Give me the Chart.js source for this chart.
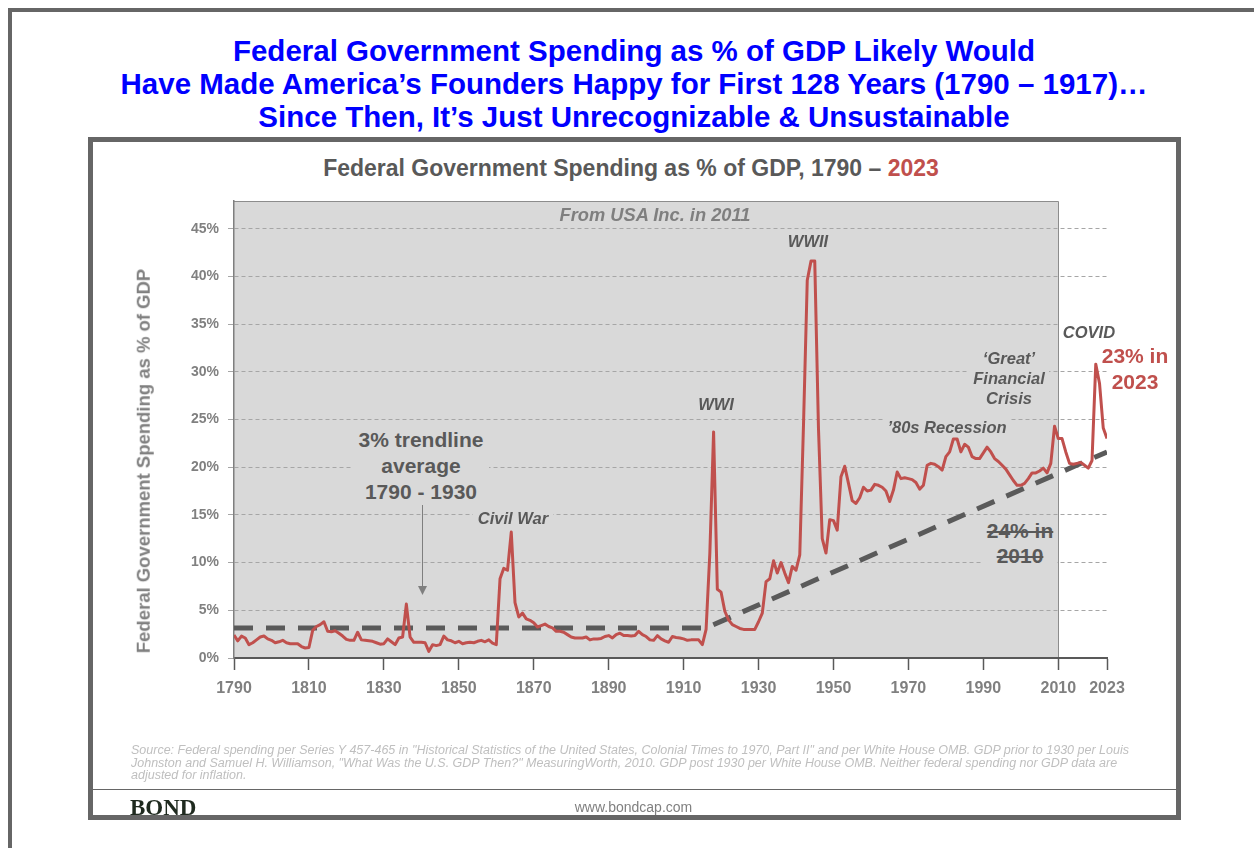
<!DOCTYPE html>
<html>
<head>
<meta charset="utf-8">
<script src="https://cdn.jsdelivr.net/npm/chart.js@4.4.1/dist/chart.umd.min.js"></script>
<style>
  html, body { margin: 0; padding: 0; background: #fff; }
  body { width: 1254px; height: 848px; position: relative; overflow: hidden;
         font-family: "Liberation Sans", Arial, sans-serif; }
  .abs { position: absolute; white-space: nowrap; }
  .note { font-weight: bold; font-style: italic; color: #595959; font-size: 16.5px;
          line-height: 1; background: #d9d9d9; text-align: center; }
  .big { font-weight: bold; font-size: 21px; color: #595959; text-align: center; background: #d9d9d9; }
</style>
</head>
<body>
<div class="abs" style="left:8px;top:8px;width:1260px;height:860px;border-left:4px solid #666;border-top:4px solid #666;"></div>

<div class="abs" style="left:14px;top:34px;width:1240px;text-align:center;font-weight:bold;font-size:29.5px;line-height:33px;color:#0000ff;">
Federal Government Spending as % of GDP Likely Would<br>
Have Made America’s Founders Happy for First 128 Years (1790 – 1917)…<br>
Since Then, It’s Just Unrecognizable &amp; Unsustainable
</div>

<div class="abs" style="left:88px;top:137px;width:1093px;height:683px;border:5px solid #666;box-sizing:border-box;"></div>

<div class="abs" style="left:131px;top:157px;width:1000px;text-align:center;font-weight:bold;font-size:23px;line-height:1;color:#595959;">
Federal Government Spending as % of GDP, 1790 – <span style="color:#c0504d">2023</span>
</div>

<canvas id="chart" class="abs" style="left:93px;top:142px;" width="1083" height="600"></canvas>

<div class="abs" style="left:144px;top:461px;font-weight:bold;font-size:18.5px;line-height:1;color:#808080;transform:translate(-50%,-50%) rotate(-90deg);">
Federal Government Spending as % of GDP
</div>

<!-- annotations -->
<div class="abs note" style="left:545px;top:206px;width:220px;font-size:18.3px;color:#7f7f7f;">From USA Inc. in 2011</div>
<div class="abs note" style="left:783px;top:233px;width:50px;">WWII</div>
<div class="abs note" style="left:694px;top:396px;width:44px;">WWI</div>
<div class="abs note" style="left:473px;top:510px;width:80px;">Civil War</div>
<div class="abs note" style="left:883px;top:419px;width:128px;">’80s Recession</div>
<div class="abs note" style="left:969px;top:348px;width:80px;line-height:20px;">‘Great’<br>Financial<br>Crisis</div>
<div class="abs note" style="left:1059px;top:324px;width:60px;background:#fff;">COVID</div>
<div class="abs big" style="left:1097px;top:343px;width:76px;line-height:25.6px;color:#c0504d;background:none;">23% in<br>2023</div>
<div class="abs big" style="left:983px;top:518px;width:74px;line-height:25px;text-decoration:line-through;">24% in<br>2010</div>
<div class="abs big" style="left:353px;top:427px;width:136px;line-height:26.2px;">3% trendline<br>average<br>1790 - 1930</div>

<svg class="abs" style="left:0;top:0;" width="1254" height="848">
  <line x1="422.5" y1="505" x2="422.5" y2="588" stroke="#7f7f7f" stroke-width="1"/>
  <polygon points="418,586 427,586 422.5,595" fill="#7f7f7f"/>
</svg>

<div class="abs" style="left:131px;top:744px;font-style:italic;font-size:12.5px;line-height:12.5px;color:#bfbfbf;">
Source: Federal spending per Series Y 457-465 in "Historical Statistics of the United States, Colonial Times to 1970, Part II" and per White House OMB. GDP prior to 1930 per Louis<br>
Johnston and Samuel H. Williamson, "What Was the U.S. GDP Then?" MeasuringWorth, 2010. GDP post 1930 per White House OMB. Neither federal spending nor GDP data are<br>
adjusted for inflation.
</div>
<div class="abs" style="left:93px;top:789px;width:1083px;height:1px;background:#666;"></div>
<div class="abs" style="left:130px;top:795.6px;font-family:'Liberation Serif',serif;font-weight:bold;font-size:23px;line-height:1;color:#1f2a1f;">BOND</div>
<div class="abs" style="left:433.5px;top:800px;width:400px;text-align:center;font-size:14px;line-height:1;color:#808080;">www.bondcap.com</div>

<script>
const firstYear = 1790;

// federal spending as % of GDP, one value per year, 1790-2023
const spendingPct = [
  2.4, 1.8, 2.3, 2.1, 1.4, 1.6, 1.9, 2.2, 2.3, 2.0,        // 1790s
  1.85, 1.6, 1.7, 1.85, 1.6, 1.5, 1.5, 1.5, 1.2, 1.05,     // 1800s
  1.1, 2.9, 3.3, 3.5, 3.8, 2.8, 2.75, 2.85, 2.6, 2.3,      // 1810s
  1.95, 1.85, 1.85, 2.7, 1.9, 1.85, 1.8, 1.75, 1.6, 1.45,  // 1820s
  1.5, 2.0, 1.7, 1.4, 2.1, 2.2, 5.65, 2.2, 1.65, 1.65,     // 1830s
  1.65, 1.6, 0.7, 1.4, 1.3, 1.4, 2.3, 1.9, 1.8, 1.6,       // 1840s
  1.75, 1.5, 1.6, 1.65, 1.6, 1.75, 1.85, 1.7, 1.9, 1.55,   // 1850s
  1.4, 8.3, 9.4, 9.2, 13.2, 5.8, 4.3, 4.7, 4.1, 3.95,      // 1860s
  3.7, 3.25, 3.4, 3.55, 3.3, 3.15, 2.8, 2.8, 2.7, 2.45,    // 1870s
  2.2, 2.1, 2.1, 2.1, 2.2, 1.9, 2.0, 2.0, 2.05, 2.25,      // 1880s
  2.35, 2.1, 2.45, 2.6, 2.35, 2.35, 2.3, 2.35, 2.8, 2.45,  // 1890s
  2.25, 1.9, 1.85, 2.35, 2.0, 1.8, 1.65, 2.25, 2.15, 2.1,  // 1900s
  2.0, 1.85, 1.9, 1.9, 1.9, 1.4, 3.0, 11.0, 23.7, 7.2,     // 1910s
  6.9, 4.9, 4.0, 3.5, 3.3, 3.1, 3.0, 3.0, 3.0, 3.0,        // 1920s
  3.8, 4.7, 8.0, 8.3, 10.2, 8.9, 10.0, 8.9, 7.9, 9.6,      // 1930s
  9.2, 10.8, 24.5, 39.6, 41.6, 41.6, 24.0, 12.5, 11.0, 14.5, // 1940s
  14.4, 13.4, 19.0, 20.1, 18.3, 16.5, 16.2, 16.8, 17.9, 17.5, // 1950s
  17.6, 18.2, 18.1, 17.9, 17.5, 16.4, 17.6, 19.5, 18.8, 18.9, // 1960s
  18.8, 18.7, 18.4, 17.7, 18.1, 20.2, 20.4, 20.3, 20.05, 19.7, // 1970s
  21.1, 21.6, 22.95, 22.95, 21.6, 22.4, 22.1, 21.1, 20.9, 20.9, // 1980s
  21.5, 22.1, 21.6, 20.9, 20.6, 20.2, 19.8, 19.2, 18.6, 18.1, // 1990s
  18.1, 18.3, 18.8, 19.4, 19.4, 19.6, 19.9, 19.4, 20.4, 24.3, // 2000s
  23.0, 23.0, 21.6, 20.4, 20.3, 20.4, 20.5, 20.2, 19.9, 20.7, // 2010s
  30.8, 28.8, 24.1, 23.0                                    // 2020-2023
];
const years = spendingPct.map((_, i) => firstYear + i);

// dashed trendline: flat ~3% average, then rising
const trendYears = [1790, 1916, 2023];
const trendPct = [3.15, 3.15, 21.6];

// shaded "From USA Inc. in 2011" period
const shadedYears = [1790, 2010];

const xTickYears = [1790, 1810, 1830, 1850, 1870, 1890, 1910, 1930, 1950, 1970, 1990, 2010, 2023];
const yTickPcts = [0, 5, 10, 15, 20, 25, 30, 35, 40, 45];

const shadePlugin = {
  id: "shade",
  beforeDraw(chart) {
    const { ctx, scales: { x, y } } = chart;
    const left = x.getPixelForValue(shadedYears[0]);
    const right = x.getPixelForValue(shadedYears[1]);
    const top = y.getPixelForValue(y.max);
    const bottom = y.getPixelForValue(0);
    ctx.save();
    ctx.fillStyle = "#d9d9d9";
    ctx.fillRect(left, top, right - left, bottom - top);
    ctx.strokeStyle = "#8c8c8c";
    ctx.lineWidth = 1;
    ctx.beginPath();
    ctx.moveTo(left, top + 0.5);
    ctx.lineTo(Math.round(right) + 0.5, top + 0.5);
    ctx.lineTo(Math.round(right) + 0.5, bottom);
    ctx.stroke();
    ctx.restore();
  }
};

new Chart(document.getElementById("chart"), {
  type: "line",
  data: {
    datasets: [
      {
        data: years.map((yr, i) => ({ x: yr, y: spendingPct[i] })),
        borderColor: "#c0504d",
        borderWidth: 3,
        pointRadius: 0,
        tension: 0,
        borderJoinStyle: "round"
      },
      {
        data: trendYears.map((yr, i) => ({ x: yr, y: trendPct[i] })),
        borderColor: "#5a5a5a",
        borderWidth: 5,
        borderDash: [19, 13],
        pointRadius: 0,
        tension: 0
      }
    ]
  },
  options: {
    responsive: false,
    animation: false,
    layout: { padding: { left: 0, right: 69, top: 59, bottom: 0 } },
    plugins: { legend: { display: false }, tooltip: { enabled: false } },
    scales: {
      x: {
        type: "linear",
        min: 1790,
        max: 2023,
        afterBuildTicks: (scale) => { scale.ticks = xTickYears.map(v => ({ value: v })); },
        afterFit: (scale) => { scale.height = 84; },
        ticks: {
          autoSkip: false,
          maxRotation: 0,
          padding: 9,
          color: "#808080",
          font: { family: "Liberation Sans", size: 16, weight: "bold" },
          callback: (v) => String(v)
        },
        grid: { drawOnChartArea: false, drawTicks: true, tickLength: 12, tickColor: "#595959", tickWidth: 1.5 },
        border: { display: true, color: "#595959", width: 2 }
      },
      y: {
        min: 0,
        max: 47.9,
        afterBuildTicks: (scale) => { scale.ticks = yTickPcts.map(v => ({ value: v })); },
        afterFit: (scale) => { scale.width = 141; },
        ticks: {
          padding: 9,
          color: "#808080",
          font: { family: "Liberation Sans", size: 14, weight: "bold" },
          callback: (v) => v + "%"
        },
        grid: {
          color: (c) => (c.tick && c.tick.value === 0 ? "rgba(0,0,0,0)" : "#a6a6a6"),
          lineWidth: 1,
          tickLength: 6,
          tickColor: "#a6a6a6",
          tickBorderDash: []
        },
        border: { display: true, color: "#7f7f7f", width: 1.5, dash: [4, 3] }
      }
    }
  },
  plugins: [shadePlugin]
});
</script>
</body>
</html>
